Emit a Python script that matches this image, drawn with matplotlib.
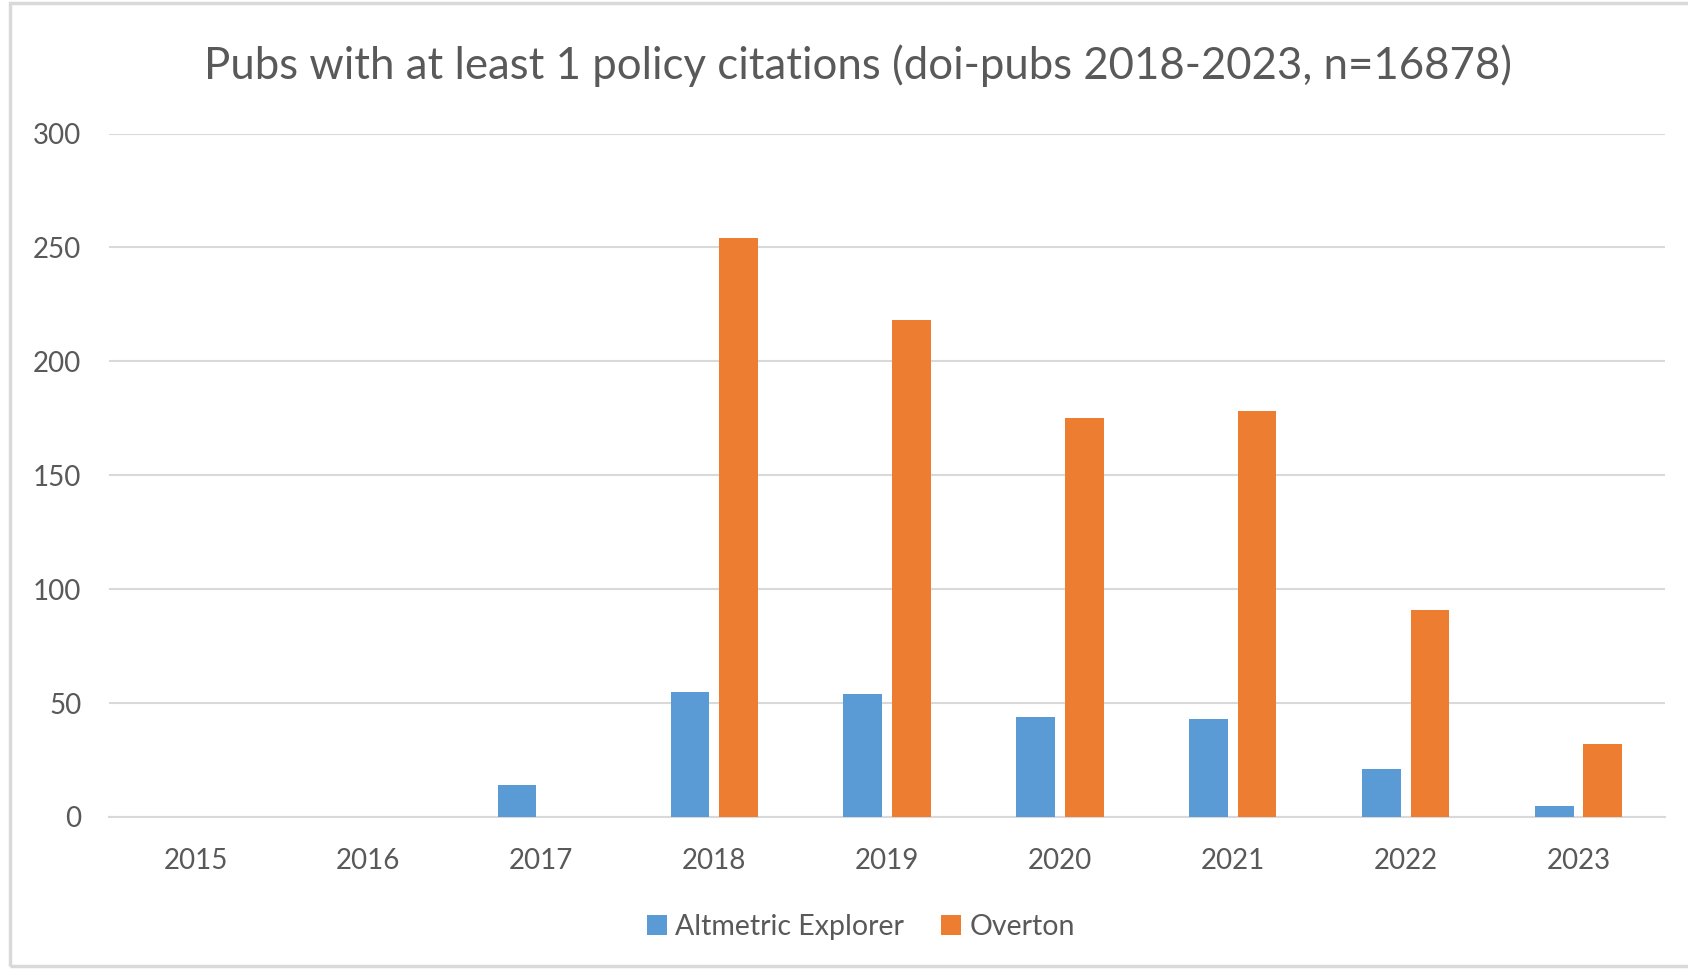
import matplotlib.pyplot as plt
import numpy as np

years = ['2015', '2016', '2017', '2018', '2019', '2020', '2021', '2022', '2023']
altmetric = [0, 0, 14, 55, 54, 44, 43, 21, 5]
overton = [0, 0, 0, 254, 218, 175, 178, 91, 32]
series_names = ['Altmetric Explorer', 'Overton']

blue = '#5B9BD5'
orange = '#ED7D31'
grey_txt = '#595959'
grid_col = '#D9D9D9'

plt.rcParams['font.family'] = ['Lato', 'DejaVu Sans']

dpi = 100
fig = plt.figure(figsize=(1688 / dpi, 969 / dpi), dpi=dpi)
ax = fig.add_axes([0.0646, 0.1569, 0.9218, 0.7053])

xs = np.arange(len(years))
w = 0.224
ax.bar(xs - 0.14, altmetric, w, color=blue, label=series_names[0], zorder=3)
ax.bar(xs + 0.14, overton, w, color=orange, label=series_names[1], zorder=3)

ax.set_xlim(-0.5, len(years) - 0.5)
ax.set_ylim(0, 300)
ax.set_yticks(range(0, 301, 50))
ax.set_xticks(xs)
ax.set_xticklabels(years)
ax.yaxis.grid(True, color=grid_col, linewidth=1.5, zorder=0)
ax.set_axisbelow(True)
for s in ['top', 'right', 'left']:
    ax.spines[s].set_visible(False)
ax.spines['bottom'].set_color(grid_col)
ax.spines['bottom'].set_linewidth(1.5)
ax.tick_params(length=0, labelsize=20, labelcolor=grey_txt)
ax.tick_params(axis='y', pad=20)
ax.tick_params(axis='x', pad=22)

fig.text(0.508, 0.932, 'Pubs with at least 1 policy citations (doi-pubs 2018-2023, n=16878)',
         ha='center', va='center', fontsize=31.5, color=grey_txt)

fig.legend(loc='center', bbox_to_anchor=(0.51, 0.043), ncol=2, frameon=False,
           fontsize=20.5, labelcolor=grey_txt, handlelength=0.7, handleheight=0.7,
           handletextpad=0.3, columnspacing=1.3)

# chart area border (left, top, bottom visible)
fig.add_artist(plt.Rectangle((10 / 1688, 3 / 969), 1.1, 963 / 969, transform=fig.transFigure,
                             fill=False, edgecolor=grid_col, linewidth=2.5))

fig.savefig('out.png', dpi=dpi)
